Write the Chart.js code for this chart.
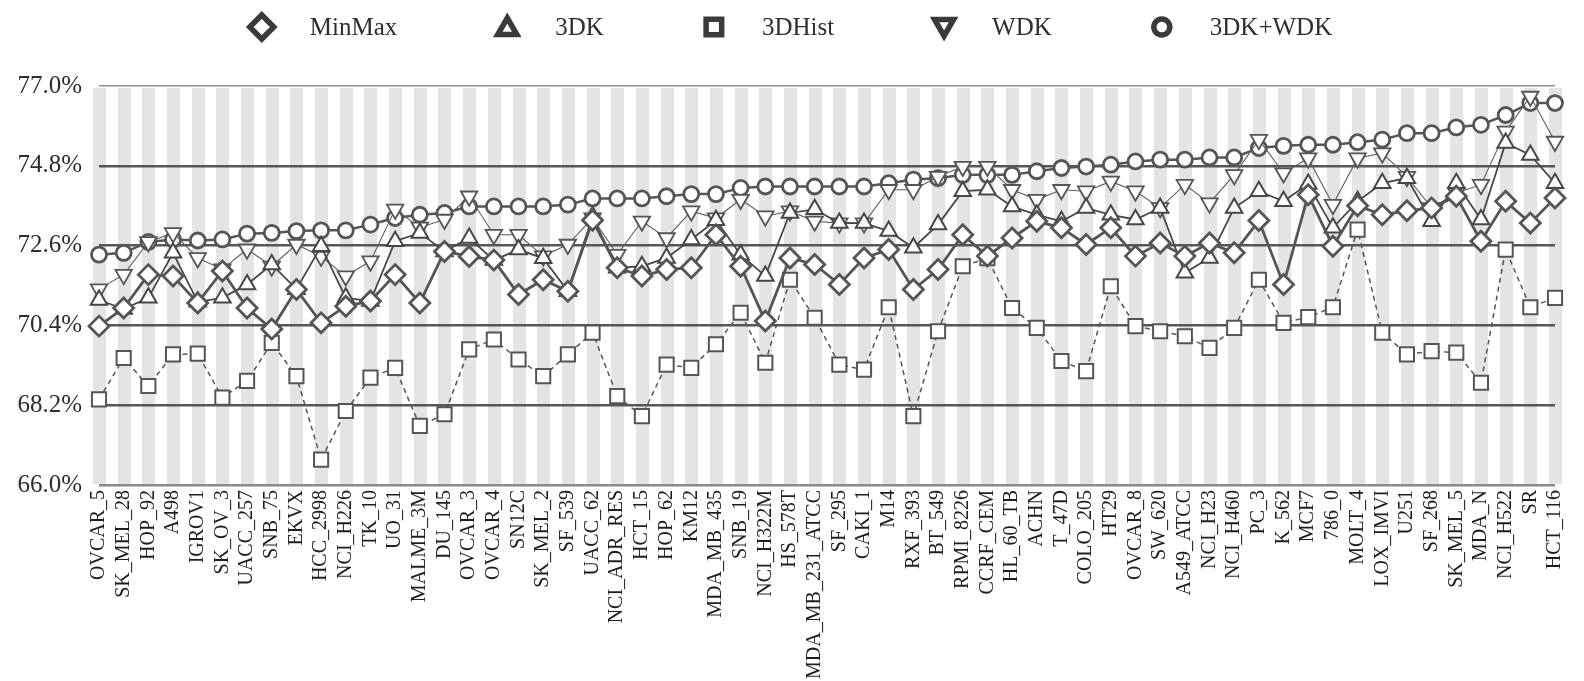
<!DOCTYPE html>
<html>
<head>
<meta charset="utf-8">
<title>Accuracy per cell line</title>
<script src="https://cdn.jsdelivr.net/npm/chart.js@4.4.1/dist/chart.umd.min.js"></script>
<style>
  html, body { margin: 0; padding: 0; background: #ffffff; }
  canvas { display: block; }
</style>
</head>
<body>
<canvas id="chart" width="1584" height="681"></canvas>
<script>
// Cell lines on the x axis
const cellLines = [
  'OVCAR_5', 'SK_MEL_28', 'HOP_92', 'A498', 'IGROV1', 'SK_OV_3', 'UACC_257', 'SNB_75', 'EKVX', 'HCC_2998',
  'NCI_H226', 'TK_10', 'UO_31', 'MALME_3M', 'DU_145', 'OVCAR_3', 'OVCAR_4', 'SN12C', 'SK_MEL_2', 'SF_539',
  'UACC_62', 'NCI_ADR_RES', 'HCT_15', 'HOP_62', 'KM12', 'MDA_MB_435', 'SNB_19', 'NCI_H322M', 'HS_578T', 'MDA_MB_231_ATCC',
  'SF_295', 'CAKI_1', 'M14', 'RXF_393', 'BT_549', 'RPMI_8226', 'CCRF_CEM', 'HL_60_TB', 'ACHN', 'T_47D',
  'COLO_205', 'HT29', 'OVCAR_8', 'SW_620', 'A549_ATCC', 'NCI_H23', 'NCI_H460', 'PC_3', 'K_562', 'MCF7',
  '786_0', 'MOLT_4', 'LOX_IMVI', 'U251', 'SF_268', 'SK_MEL_5', 'MDA_N', 'NCI_H522', 'SR', 'HCT_116'
];

// Accuracy (%) per method
const minMax = [
  70.38, 70.88, 71.80, 71.76, 71.02, 71.90, 70.88, 70.30, 71.39, 70.47,
  70.93, 71.07, 71.80, 71.02, 72.44, 72.30, 72.20, 71.25, 71.66, 71.34,
  73.30, 71.99, 71.76, 71.94, 71.99, 72.90, 72.03, 70.52, 72.26, 72.08,
  71.53, 72.26, 72.49, 71.39, 71.94, 72.90, 72.31, 72.81, 73.27, 73.09,
  72.63, 73.09, 72.31, 72.67, 72.31, 72.67, 72.40, 73.29, 71.53, 74.00,
  72.58, 73.70, 73.45, 73.56, 73.64, 73.96, 72.72, 73.82, 73.22, 73.91
];
const threeDK = [
  71.10, 70.85, 71.16, 72.40, 71.05, 71.16, 71.53, 72.08, 71.40, 72.58,
  71.16, 71.07, 72.72, 72.95, 72.44, 72.81, 72.20, 72.49, 72.25, 71.34,
  73.40, 71.99, 72.03, 72.26, 72.77, 73.30, 72.35, 71.76, 73.50, 73.60,
  73.22, 73.22, 73.00, 72.54, 73.18, 74.10, 74.14, 73.68, 73.45, 73.27,
  73.64, 73.45, 73.32, 73.64, 71.85, 72.26, 73.64, 74.10, 73.82, 74.30,
  73.09, 73.82, 74.32, 74.46, 73.27, 74.32, 73.32, 75.43, 75.10, 74.32
];
const threeDHist = [
  68.36, 69.50, 68.73, 69.60, 69.62, 68.41, 68.87, 69.92, 69.00, 66.70,
  68.04, 68.96, 69.23, 67.63, 67.95, 69.74, 70.01, 69.46, 69.00, 69.60,
  70.20, 68.45, 67.90, 69.32, 69.23, 69.88, 70.75, 69.37, 71.66, 70.61,
  69.32, 69.18, 70.90, 67.90, 70.24, 72.03, 72.25, 70.88, 70.33, 69.42,
  69.14, 71.48, 70.38, 70.24, 70.10, 69.78, 70.33, 71.66, 70.47, 70.63,
  70.90, 73.04, 70.20, 69.60, 69.69, 69.65, 68.82, 72.49, 70.90, 71.16
];
const wdk = [
  71.40, 71.80, 72.70, 72.95, 72.26, 71.95, 72.50, 72.03, 72.63, 72.30,
  71.76, 72.17, 73.60, 73.10, 73.32, 73.96, 72.90, 72.90, 72.31, 72.63,
  73.36, 72.35, 73.27, 72.81, 73.55, 73.36, 73.87, 73.41, 73.55, 73.27,
  73.22, 73.22, 74.14, 74.14, 74.50, 74.78, 74.78, 74.14, 73.87, 74.14,
  74.10, 74.37, 74.10, 73.64, 74.28, 73.77, 74.55, 75.52, 74.60, 75.01,
  73.73, 75.01, 75.15, 74.50, 73.64, 74.05, 74.28, 75.75, 76.71, 75.47
];
const threeDKWdk = [
  72.35, 72.40, 72.70, 72.77, 72.74, 72.77, 72.93, 72.95, 73.00, 73.02,
  73.02, 73.18, 73.36, 73.45, 73.50, 73.68, 73.68, 73.68, 73.68, 73.73,
  73.90, 73.90, 73.90, 73.96, 74.02, 74.02, 74.19, 74.23, 74.23, 74.23,
  74.23, 74.23, 74.32, 74.42, 74.46, 74.55, 74.55, 74.55, 74.65, 74.74,
  74.78, 74.83, 74.92, 74.97, 74.97, 75.03, 75.03, 75.29, 75.35, 75.38,
  75.38, 75.45, 75.52, 75.70, 75.70, 75.86, 75.93, 76.20, 76.53, 76.53
];

// Y axis tick values (%)
const yTicks = [66.0, 68.2, 70.4, 72.6, 74.8, 77.0];

const SERIF = "'Liberation Serif', 'Times New Roman', 'DejaVu Serif', serif";

function series(label, data, style, opts) {
  return Object.assign({
    label: label,
    data: data,
    borderColor: '#555555',
    backgroundColor: '#ffffff',
    pointBackgroundColor: '#ffffff',
    pointBorderColor: '#555555',
    pointStyle: style,
    fill: false,
    tension: 0
  }, opts);
}

// Alternating light-grey column bands, one per cell line
const columnBands = {
  id: 'columnBands',
  beforeDraw(chart) {
    const { ctx, chartArea, scales } = chart;
    ctx.save();
    ctx.fillStyle = '#e4e4e4';
    for (let i = 0; i < cellLines.length; i++) {
      const x = scales.x.getPixelForValue(i);
      ctx.fillRect(Math.round(x - 6), chartArea.top + 2, 13, chartArea.bottom - chartArea.top - 3);
    }
    ctx.restore();
  }
};

// Legend row across the top: bold marker followed by the method name
const markerLegend = {
  id: 'markerLegend',
  afterDraw(chart) {
    const { ctx } = chart;
    const font = '25px ' + SERIF;
    const markerToText = 48;
    const textToMarker = 110;
    const y = 27;
    ctx.save();
    ctx.font = font;
    const items = chart.data.datasets.map(ds => ({ ds, w: ctx.measureText(ds.label).width }));
    let total = 0;
    items.forEach((it, k) => {
      total += markerToText + it.w + (k < items.length - 1 ? textToMarker : 0);
    });
    let x = chart.width / 2 - total / 2 + 5;
    const sizes = { rectRot: 12, triangle: 11, rect: 11, circle: 8 };
    items.forEach(it => {
      const ds = it.ds;
      ctx.strokeStyle = '#3a3a3a';
      ctx.fillStyle = '#ffffff';
      ctx.lineWidth = 5.5;
      ctx.setLineDash([]);
      const dy = ds.pointStyle === 'triangle' ? (ds.pointRotation ? -2 : 2) : 0;
      Chart.helpers.drawPoint(ctx, {
        pointStyle: ds.pointStyle,
        radius: sizes[ds.pointStyle],
        rotation: ds.pointRotation || 0,
        borderWidth: 5.5
      }, x, y + dy);
      ctx.fillStyle = '#2e2e2e';
      ctx.font = font;
      ctx.textBaseline = 'middle';
      ctx.textAlign = 'left';
      ctx.fillText(ds.label, x + markerToText, y + 1);
      x += markerToText + it.w + textToMarker;
    });
    ctx.restore();
  }
};

new Chart(document.getElementById('chart').getContext('2d'), {
  type: 'line',
  data: {
    labels: cellLines,
    datasets: [
      series('MinMax', minMax, 'rectRot', { borderWidth: 2.8, pointRadius: 10, pointBorderWidth: 2.8 }),
      series('3DK', threeDK, 'triangle', { borderColor: '#474747', pointBorderColor: '#474747', borderWidth: 1.8, pointRadius: 9.5, pointBorderWidth: 2 }),
      series('3DHist', threeDHist, 'rect', { borderWidth: 1.5, borderDash: [5, 4], pointRadius: 10, pointBorderWidth: 2 }),
      series('WDK', wdk, 'triangle', { pointRotation: 180, borderColor: '#5e5e5e', pointBorderColor: '#555555', borderWidth: 1.1, pointRadius: 9.5, pointBorderWidth: 1.8 }),
      series('3DK+WDK', threeDKWdk, 'circle', { borderWidth: 2.5, pointRadius: 7.5, pointBorderWidth: 2.8 })
    ]
  },
  options: {
    responsive: false,
    animation: false,
    events: [],
    layout: { padding: { top: 86, right: 11, left: 0, bottom: 0 } },
    plugins: {
      legend: { display: false },
      tooltip: { enabled: false }
    },
    scales: {
      x: {
        offset: false,
        grid: { display: false, drawTicks: false },
        border: { display: false },
        ticks: {
          autoSkip: false,
          minRotation: 90,
          maxRotation: 90,
          padding: 5,
          color: '#1e1e1e',
          font: { family: SERIF, size: 20 }
        },
        afterFit(scale) { scale.height = 196; }
      },
      y: {
        min: 66,
        max: 77,
        afterBuildTicks(scale) { scale.ticks = yTicks.map(v => ({ value: v })); },
        ticks: {
          padding: 17,
          color: '#2e2e2e',
          font: { family: SERIF, size: 25 },
          callback: v => Number(v).toFixed(1) + '%'
        },
        grid: {
          drawTicks: false,
          color: c => {
            const v = c.tick ? c.tick.value : null;
            if (v === 77.0) return '#8f8f8f';
            if (v === 66.0) return '#8a8a8a';
            return '#565656';
          },
          lineWidth: c => {
            const v = c.tick ? c.tick.value : null;
            if (v === 77.0) return 1.6;
            if (v === 66.0) return 2.4;
            return 2.6;
          }
        },
        border: { display: false },
        afterFit(scale) { scale.width = 99; }
      }
    }
  },
  plugins: [columnBands, markerLegend]
});
</script>
</body>
</html>
